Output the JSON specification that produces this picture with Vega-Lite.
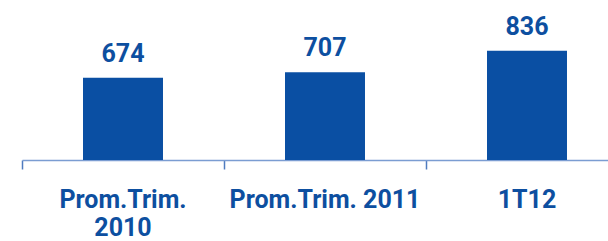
{
  "$schema": "https://vega.github.io/schema/vega-lite/v6.json",
  "autosize": "none",
  "width": 606,
  "height": 160,
  "padding": {"left": 22, "top": 0, "right": 0, "bottom": 81},
  "background": "white",
  "config": {"view": {"stroke": null}},
  "data": {"values": [
    {"label": "Prom.Trim. 2010", "value": 674},
    {"label": "Prom.Trim. 2011", "value": 707},
    {"label": "1T12", "value": 836}
  ]},
  "encoding": {
    "x": {
      "field": "label", "type": "nominal", "sort": null,
      "scale": {"paddingInner": 0.604, "paddingOuter": 0.302},
      "axis": {
        "title": null, "labelAngle": 0, "bandPosition": -0.7625, "labelLimit": 400,
        "labelExpr": "datum.label == 'Prom.Trim. 2010' ? ['Prom.Trim.', '2010'] : datum.label",
        "labelFont": "Roboto", "labelFontSize": 25, "labelFontWeight": "bold",
        "labelColor": "#0d4fa0", "labelBaseline": "alphabetic", "labelPadding": 38,
        "labelLineHeight": 28,
        "domainColor": "#7b9dd2", "domainWidth": 1.5,
        "tickColor": "#4f7bbf", "tickWidth": 1.5, "tickSize": 9
      }
    },
    "y": {
      "field": "value", "type": "quantitative",
      "scale": {"domain": [180, 1140], "zero": false, "nice": false},
      "axis": null
    }
  },
  "layer": [
    {"mark": {"type": "bar", "color": "#0a4fa3"},
     "encoding": {"y2": {"datum": 180}}},
    {"mark": {"type": "text", "font": "Roboto", "fontSize": 25, "fontWeight": "bold", "color": "#0d4fa0", "baseline": "alphabetic", "dy": -16},
     "encoding": {"text": {"field": "value", "type": "quantitative"}}}
  ]
}
